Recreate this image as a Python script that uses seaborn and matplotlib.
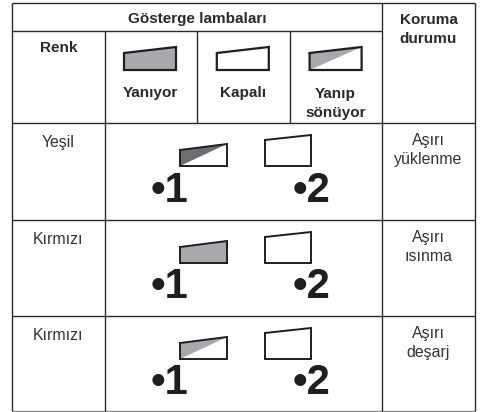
import matplotlib
matplotlib.use("Agg")
import matplotlib.pyplot as plt
import seaborn as sns

sns.set_theme(style="white")
plt.rcParams['font.family'] = ['Liberation Sans', 'DejaVu Sans']

# --- content ---
title = "Gösterge lambaları"
protect_head = "Koruma\ndurumu"
color_head = "Renk"
state_names = ["Yanıyor", "Kapalı", "Yanıp\nsönüyor"]
state_kinds = ["on", "off", "blink"]
row_colors = ["Yeşil", "Kırmızı", "Kırmızı"]
row_status = ["Aşırı\nyüklenme", "Aşırı\nısınma", "Aşırı\ndeşarj"]
row_lamp1 = ["blink_dark", "on", "blink"]
lamp_labels = ["•1", "•2"]

# --- layout in reference pixels ---
col_x = [12, 105, 197, 290, 382, 475]
row_y = [3, 31, 123, 220, 316, 411]
INK = "#2a2a2a"
GREY = "#a7a9ac"
DARK = "#6d6e71"

fig = plt.figure(figsize=(4.82, 4.12), dpi=100)
ax = fig.add_axes([0, 0, 1, 1])
ax.set_xlim(0, 482)
ax.set_ylim(412, 0)
ax.axis("off")

def hline(y, x0, x1, c=INK):
    ax.plot([x0, x1], [y, y], color=c, lw=1.0, solid_capstyle="butt", zorder=3)

def vline(x, y0, y1):
    ax.plot([x, x], [y0, y1], color=INK, lw=1.0, solid_capstyle="butt", zorder=3)

hline(row_y[0], col_x[0], col_x[5])
hline(row_y[1], col_x[0], col_x[4])
hline(row_y[2], col_x[0], col_x[5])
hline(row_y[3], col_x[0], col_x[5])
hline(row_y[4], col_x[0], col_x[5])
hline(row_y[5], col_x[0], col_x[5], c="#8a8a8a")
vline(col_x[0], row_y[0], row_y[5])
vline(col_x[5], row_y[0], row_y[5])
vline(col_x[4], row_y[0], row_y[5])
vline(col_x[1], row_y[1], row_y[5])
vline(col_x[2], row_y[1], row_y[2])
vline(col_x[3], row_y[1], row_y[2])

def lamp(x0, x1, y_left, y_right, y_bot, kind, lw=1.6):
    if kind == "on":
        ax.fill([x0, x1, x1, x0], [y_left, y_right, y_bot, y_bot], color=GREY, lw=0, zorder=2)
    elif kind == "blink":
        ax.fill([x0, x1, x0], [y_left, y_right, y_bot], color=GREY, lw=0, zorder=2)
    elif kind == "blink_dark":
        ax.fill([x0, x1, x0], [y_left, y_right, y_bot], color=DARK, lw=0, zorder=2)
    ax.plot([x0, x1, x1, x0, x0], [y_left, y_right, y_bot, y_bot, y_left],
            color="#1f1f1f", lw=lw, solid_joinstyle="miter", zorder=4)

bold = dict(fontweight="bold", color=INK, ha="center", va="center", linespacing=1.5)
reg = dict(color="#333333", ha="center", va="center", linespacing=1.3)

ax.text(197, 18.5, title, fontsize=11, **bold)
ax.text(428.5, 29.5, protect_head, fontsize=11, **bold)
ax.text(58.5, 48, color_head, fontsize=11, **bold)

for i, (name, kind) in enumerate(zip(state_names, state_kinds)):
    x0 = 124 + i * 92.8
    lamp(x0, x0 + 52, 53, 47, 70, kind)
    ty = 93 if i < 2 else 103.5
    ax.text((x0 + x0 + 52) / 2, ty, name, fontsize=11, **bold)

for i in range(3):
    base = row_y[2 + i]
    ax.text(58.5, base + 19, row_colors[i], fontsize=11.4, **reg)
    ax.text(428.5, base + 27, row_status[i], fontsize=11.4, **reg)
    off = base - row_y[2]
    lamp(180, 227, 150 + off, 144 + off, 166 + off, row_lamp1[i], lw=1.4)
    lamp(265, 311, 140 + off, 135 + off, 166 + off, "off", lw=1.4)
    ax.text(170, 190.5 + off, lamp_labels[0], fontsize=30, **{**bold, "color": "#1f1f1f"})
    ax.text(311, 190.5 + off, lamp_labels[1], fontsize=30, **{**bold, "color": "#1f1f1f"})

fig.savefig("out.png", dpi=100)
